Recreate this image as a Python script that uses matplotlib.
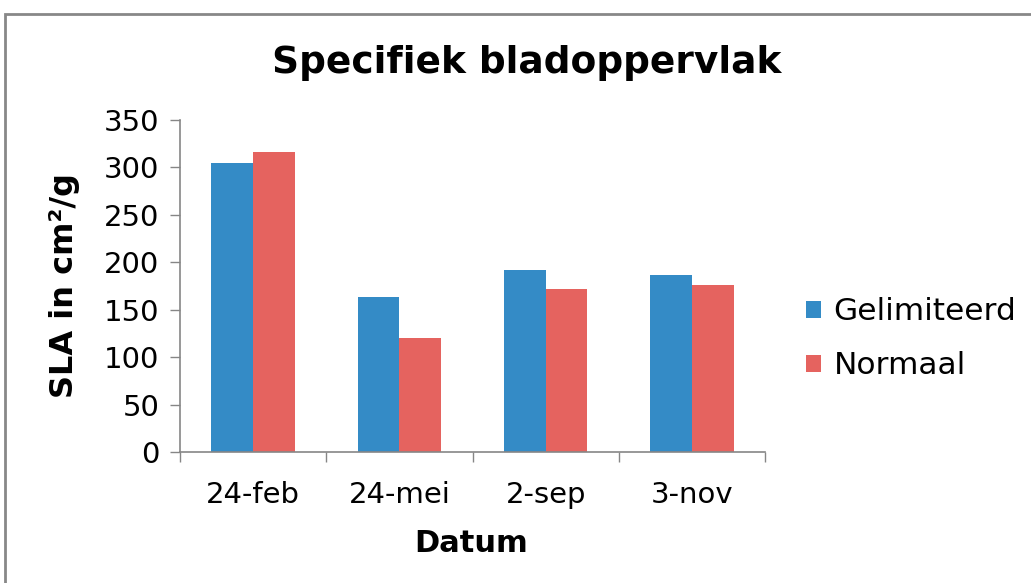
import matplotlib
matplotlib.use("Agg")
import matplotlib.pyplot as plt
import numpy as np
from matplotlib.patches import Rectangle

categories = ["24-feb", "24-mei", "2-sep", "3-nov"]
gelimiteerd = [305, 163, 192, 187]
normaal = [316, 120, 172, 176]
series_names = ["Gelimiteerd", "Normaal"]
colors = ["#348BC6", "#E5635F"]
yticks = [0, 50, 100, 150, 200, 250, 300, 350]

W, H = 1031, 583
fig = plt.figure(figsize=(W / 100, H / 100), dpi=100)
ax = fig.add_axes([180 / W, 1 - 452 / H, (765 - 180) / W, (452 - 120) / H])

# chart border (partly clipped)
fig.patches.append(Rectangle((5 / W, -0.2), 1.2, 1 - 14 / H + 0.2,
                             transform=fig.transFigure, fill=False,
                             edgecolor="#888888", linewidth=2, zorder=0))

x = np.arange(len(categories))
bw = 1 / 3.5
ax.bar(x - bw / 2, gelimiteerd, bw, color=colors[0], label=series_names[0])
ax.bar(x + bw / 2, normaal, bw, color=colors[1], label=series_names[1])

ax.set_xlim(-0.5, len(categories) - 0.5)
ax.set_ylim(0, 350)
ax.set_yticks(yticks)
ax.set_xticks(x)
ax.set_xticklabels(categories, fontsize=21)
ax.tick_params(axis="x", length=0, pad=21)
ax.set_xticks(np.arange(len(categories) + 1) - 0.5, minor=True)
ax.tick_params(axis="x", which="minor", length=7, color="#868686", width=1)
ax.tick_params(axis="y", length=7, color="#868686", width=1, labelsize=21, pad=8)

for s in ["top", "right"]:
    ax.spines[s].set_visible(False)
for s in ["left", "bottom"]:
    ax.spines[s].set_color("#868686")
    ax.spines[s].set_linewidth(1.2)

fig.text(527 / W, 1 - 63 / H, "Specifiek bladoppervlak", fontsize=27,
         fontweight="bold", ha="center", va="center")
fig.text(65 / W, 1 - 285 / H, "SLA in cm²/g", fontsize=23, fontweight="bold",
         rotation=90, ha="center", va="center")
fig.text(471 / W, 1 - 543 / H, "Datum", fontsize=22, fontweight="bold",
         ha="center", va="center")

leg = fig.legend(loc="center left", bbox_to_anchor=(806 / W, 1 - 339 / H),
                 frameon=False, fontsize=22.5, handlelength=0.48, handleheight=0.48,
                 handletextpad=0.4, labelspacing=0.8, borderaxespad=0,
                 borderpad=0)

fig.savefig("out.png", dpi=100)
